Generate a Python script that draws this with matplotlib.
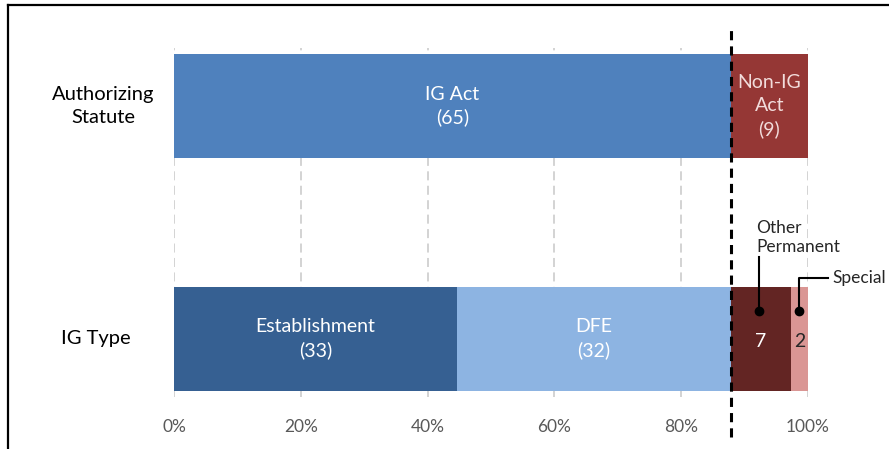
import numpy as np
import matplotlib.pyplot as plt
from matplotlib.lines import Line2D
from matplotlib.transforms import blended_transform_factory

plt.rcParams['font.family'] = ['Lato', 'DejaVu Sans']

# data
rows = ['Authorizing\nStatute', 'IG Type']
row_pos = [1, 0]
statute_names = ['IG Act', 'Non-IG Act']
statute_counts = [65, 9]
type_names = ['Establishment', 'DFE', 'Other Permanent', 'Special']
type_counts = [33, 32, 7, 2]
xticks = [0, 0.2, 0.4, 0.6, 0.8, 1.0]
xtick_labels = ['0%', '20%', '40%', '60%', '80%', '100%']

statute_colors = ['#4f81bd', '#953735']
type_colors = ['#366092', '#8db4e2', '#632523', '#da9694']

fig = plt.figure(figsize=(8.89, 4.49), dpi=100)
ax = fig.add_axes([174/889, 1-397/449, 634/889, 349/449])

bar_h = 0.445
fs_bar = 14

def stacked(y, counts, colors):
    total = sum(counts)
    frac = np.array(counts) / total
    left = np.concatenate([[0], np.cumsum(frac)[:-1]])
    ax.barh(y, frac, left=left, height=bar_h, color=colors, zorder=2)
    return left, frac

l1, f1 = stacked(1, statute_counts, statute_colors)
l2, f2 = stacked(0, type_counts, type_colors)

# labels inside bars
ax.text(l1[0] + f1[0]/2, 1, 'IG Act\n(%d)' % statute_counts[0], ha='center', va='center',
        color='white', fontsize=fs_bar, linespacing=1.4, zorder=3)
ax.text(l1[1] + f1[1]/2, 1, 'Non-IG\nAct\n(%d)' % statute_counts[1], ha='center', va='center',
        color='#f2dcdb', fontsize=fs_bar, linespacing=1.4, zorder=3)
ax.text(l2[0] + f2[0]/2, 0, 'Establishment\n(%d)' % type_counts[0], ha='center', va='center',
        color='white', fontsize=fs_bar, linespacing=1.4, zorder=3)
ax.text(l2[1] + f2[1]/2, 0, 'DFE\n(%d)' % type_counts[1], ha='center', va='center',
        color='white', fontsize=fs_bar, linespacing=1.4, zorder=3)
ax.text(l2[2] + f2[2]/2, -0.01, str(type_counts[2]), ha='center', va='center',
        color='white', fontsize=fs_bar, zorder=3)
ax.text(l2[3] + f2[3]/2, -0.01, str(type_counts[3]), ha='center', va='center',
        color='#262626', fontsize=fs_bar, zorder=3)

# callouts for small segments
xo = l2[2] + f2[2]/2 - 0.003
ax.plot([xo, xo], [0.12, 0.35], color='black', lw=1.5, zorder=4, clip_on=False)
ax.plot([xo], [0.12], 'o', color='black', ms=6, zorder=4, clip_on=False)
ax.text(xo - 0.004, 0.36, 'Other\nPermanent', ha='left', va='bottom', fontsize=12.5,
        color='#262626', linespacing=1.25)
xs = l2[3] + f2[3]/2
ax.plot([xs, xs, 1.032], [0.12, 0.262, 0.262], color='black', lw=1.5, zorder=4, clip_on=False)
ax.plot([xs], [0.12], 'o', color='black', ms=6, zorder=4, clip_on=False)
ax.text(1.039, 0.262, 'Special', ha='left', va='center', fontsize=12.5, color='#262626')

# dashed divider at IG Act share
div = statute_counts[0] / sum(statute_counts)
ax.plot([div, div], [-0.115, 1.066], color='black', lw=2.2, ls=(0, (3, 2)),
        transform=blended_transform_factory(ax.transData, ax.transAxes),
        clip_on=False, zorder=5)

ax.set_xlim(0, 1)
ax.set_ylim(-0.25, 1.25)
ax.set_xticks(xticks)
ax.set_xticklabels(xtick_labels, fontsize=12.5, color='#595959')
ax.tick_params(axis='x', length=0, pad=16)
ax.set_yticks([])
ax.grid(axis='x', color='#d0d0d0', ls=(0, (5, 3)), lw=1.3, zorder=0)
for s in ax.spines.values():
    s.set_visible(False)

# row labels
tr = blended_transform_factory(ax.transAxes, ax.transData)
ax.text(-0.112, 1, rows[0], ha='center', va='center', fontsize=14.5, transform=tr,
        linespacing=1.45)
ax.text(-0.124, 0, rows[1], ha='center', va='center', fontsize=14.5, transform=tr)

# frame remnants (top and left border of the original figure)
fig.add_artist(Line2D([8/889, 1], [1-5/449, 1-5/449], color='black', lw=1.6,
                      transform=fig.transFigure))
fig.add_artist(Line2D([8/889, 8/889], [0, 1-5/449], color='black', lw=1.6,
                      transform=fig.transFigure))

fig.savefig('out.png', dpi=100)
